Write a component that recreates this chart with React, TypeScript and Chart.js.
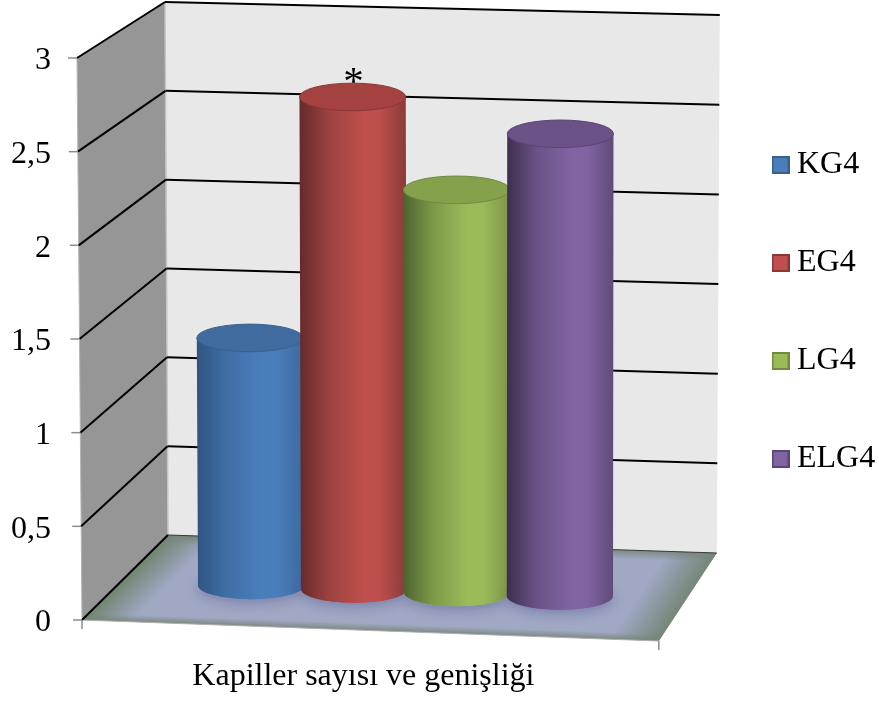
import { useEffect, useRef } from "react";
import { Chart, registerables } from "chart.js";

Chart.register(...registerables);

const categories = ["Kapiller sayısı ve genişliği"];
const seriesNames = ["KG4", "EG4", "LG4", "ELG4"];
const seriesValues = [[1.35], [2.68], [2.19], [2.51]];
const seriesNotes = ["", "*", "", ""];
const yMax = 3;
const yStep = 0.5;

const FONT = '"Liberation Serif", "Times New Roman", serif';

const shades = [
  { base: "#4a7ebb", stops: ["#2f5480", "#3f6ea6", "#4a7ebb", "#3d6a9f"], top: "#3f6b9e", rim: "#3a618c" },
  { base: "#be4f4c", stops: ["#652a29", "#9c4240", "#be4f4c", "#8a3b39"], top: "#a34240", rim: "#8a3836" },
  { base: "#9bbb59", stops: ["#4d6230", "#7d9a49", "#9bbb59", "#7b9448"], top: "#86a14c", rim: "#718a40" },
  { base: "#8064a2", stops: ["#3d2f50", "#6a5387", "#8064a2", "#5f4b7a"], top: "#6a5287", rim: "#5a4676" },
];

type Pt = { x: number; y: number };

const lerp = (a: number, b: number, t: number) => a + (b - a) * t;
const mix = (a: Pt, b: Pt, t: number): Pt => ({ x: lerp(a.x, b.x, t), y: lerp(a.y, b.y, t) });

// Oblique room corners at a given value, relative to the plot area.
function room(chart: any, v: number) {
  const { left, right, bottom } = chart.chartArea;
  const y = chart.scales.y;
  return {
    fl: { x: left - (5 * v) / yMax, y: y.getPixelForValue(v) },
    fr: { x: right + v / yMax, y: bottom + 21 - v * 189 },
    bl: { x: left + 86 - v, y: bottom - 85 - v * 177.67 },
    br: { x: right + 58 + v, y: bottom - 67 - v * 179.3 },
  };
}

const CYLINDER_DEPTH = 0.46;
const CYLINDER_SHIFT = 2;

function project(chart: any, u: number, v: number): Pt {
  const c = room(chart, v);
  const p = mix(mix(c.fl, c.fr, u), mix(c.bl, c.br, u), CYLINDER_DEPTH);
  return { x: p.x + CYLINDER_SHIFT, y: p.y };
}

function polygon(ctx: CanvasRenderingContext2D, pts: Pt[]) {
  ctx.beginPath();
  pts.forEach((p, i) => (i ? ctx.lineTo(p.x, p.y) : ctx.moveTo(p.x, p.y)));
  ctx.closePath();
}

function line(ctx: CanvasRenderingContext2D, a: Pt, b: Pt, color: string, width: number) {
  ctx.strokeStyle = color;
  ctx.lineWidth = width;
  ctx.beginPath();
  ctx.moveTo(a.x, a.y);
  ctx.lineTo(b.x, b.y);
  ctx.stroke();
}

// Fades a tinted band inward from one floor edge.
function edgeBand(ctx: CanvasRenderingContext2D, a: Pt, b: Pt, inside: Pt, depth: number, color: string, pts: Pt[]) {
  const dx = b.x - a.x;
  const dy = b.y - a.y;
  const len = Math.hypot(dx, dy);
  let nx = -dy / len;
  let ny = dx / len;
  if ((inside.x - a.x) * nx + (inside.y - a.y) * ny < 0) {
    nx = -nx;
    ny = -ny;
  }
  const g = ctx.createLinearGradient(a.x, a.y, a.x + nx * depth, a.y + ny * depth);
  g.addColorStop(0, color);
  g.addColorStop(1, color.replace(/[\d.]+\)$/, "0)"));
  ctx.fillStyle = g;
  polygon(ctx, pts);
  ctx.fill();
}

function drawRoom(chart: any) {
  const ctx: CanvasRenderingContext2D = chart.ctx;
  const top = room(chart, yMax);
  const floor = room(chart, 0);

  polygon(ctx, [top.fl, top.bl, floor.bl, floor.fl]);
  ctx.fillStyle = "#969696";
  ctx.fill();
  polygon(ctx, [top.bl, top.br, floor.br, floor.bl]);
  ctx.fillStyle = "#e8e8e8";
  ctx.fill();

  const corners = [floor.fl, floor.bl, floor.br, floor.fr];
  const mid = mix(floor.fl, floor.br, 0.5);
  polygon(ctx, corners);
  ctx.fillStyle = "#a0a8c4";
  ctx.fill();
  edgeBand(ctx, floor.fl, floor.bl, mid, 36, "rgba(112,130,108,0.95)", corners);
  edgeBand(ctx, floor.br, floor.fr, mid, 42, "rgba(118,134,120,1)", corners);
  edgeBand(ctx, floor.bl, floor.br, mid, 9, "rgba(118,132,118,0.85)", corners);
  edgeBand(ctx, floor.fr, floor.fl, mid, 7, "rgba(118,132,118,0.85)", corners);

  line(ctx, top.fl, floor.fl, "#b4b4b4", 1);
  line(ctx, top.bl, floor.bl, "#c4c4c4", 1.5);
  line(ctx, floor.fl, floor.fr, "#b0b0b0", 1);

  for (let v = 0; v <= yMax; v += yStep) {
    const c = room(chart, v);
    line(ctx, c.fl, c.bl, "#000000", 2);
    line(ctx, c.bl, c.br, v === 0 ? "#3a3a3a" : "#000000", v === 0 ? 1 : 2);
    line(ctx, { x: c.fl.x - 9, y: c.fl.y }, c.fl, "#8c8c8c", 1.5);
  }
  line(ctx, floor.fl, { x: floor.fl.x, y: floor.fl.y + 9 }, "#8c8c8c", 1.5);
  line(ctx, floor.fr, { x: floor.fr.x, y: floor.fr.y + 9 }, "#8c8c8c", 1.5);
}

function drawCylinders(chart: any) {
  const ctx: CanvasRenderingContext2D = chart.ctx;
  const { left, width } = chart.chartArea;

  seriesNames.forEach((_, i) => {
    const bar = chart.getDatasetMeta(i).data[0];
    const value = seriesValues[i][0];
    const u = (bar.x - left) / width;
    const base = project(chart, u, 0);
    const head = project(chart, u, value);
    const rx = bar.width / 2 + 0.5;
    const ry = rx * 0.26;
    const shade = shades[i];

    // Soft contact shadow on the floor
    ctx.save();
    ctx.shadowColor = "rgba(70,72,130,0.45)";
    ctx.shadowBlur = 14;
    ctx.shadowOffsetY = 3;
    ctx.fillStyle = shade.base;
    ctx.beginPath();
    ctx.ellipse(base.x, base.y, rx, ry, 0, 0, Math.PI * 2);
    ctx.fill();
    ctx.restore();

    const side = ctx.createLinearGradient(head.x - rx, 0, head.x + rx, 0);
    side.addColorStop(0, shade.stops[0]);
    side.addColorStop(0.28, shade.stops[1]);
    side.addColorStop(0.6, shade.stops[2]);
    side.addColorStop(0.75, shade.stops[2]);
    side.addColorStop(1, shade.stops[3]);
    ctx.fillStyle = side;
    ctx.beginPath();
    ctx.moveTo(head.x - rx, head.y);
    ctx.lineTo(base.x - rx, base.y);
    ctx.ellipse(base.x, base.y, rx, ry, 0, Math.PI, 0, true);
    ctx.lineTo(head.x + rx, head.y);
    ctx.closePath();
    ctx.fill();

    ctx.fillStyle = shade.top;
    ctx.strokeStyle = shade.rim;
    ctx.lineWidth = 1;
    ctx.beginPath();
    ctx.ellipse(head.x, head.y, rx, ry, 0, 0, Math.PI * 2);
    ctx.fill();
    ctx.stroke();

    if (seriesNotes[i]) {
      ctx.fillStyle = "#000000";
      ctx.font = `41px ${FONT}`;
      ctx.textAlign = "center";
      ctx.textBaseline = "alphabetic";
      ctx.fillText(seriesNotes[i], head.x + 1, head.y - 3);
    }
  });
}

const cylinderPlugin = {
  id: "cylinders",
  afterLayout(chart: any) {
    // Legend column sits beside the room, above the plot's vertical centre.
    const lg = chart.legend;
    const w = lg.right - lg.left;
    lg.left = 714;
    lg.right = 714 + w;
    lg.top -= 27;
    lg.bottom -= 27;
  },
  beforeDatasetsDraw(chart: any) {
    chart.ctx.save();
    drawRoom(chart);
    drawCylinders(chart);
    chart.ctx.restore();
    return false;
  },
};

function legendSwatch(fill: string, rim: string) {
  const c = document.createElement("canvas");
  c.width = 18;
  c.height = 18;
  const g = c.getContext("2d")!;
  g.fillStyle = fill;
  g.fillRect(0, 0, 18, 18);
  g.strokeStyle = rim;
  g.lineWidth = 2;
  g.strokeRect(1, 1, 16, 16);
  return c;
}

export default function App() {
  const ref = useRef<HTMLCanvasElement>(null);

  useEffect(() => {
    const chart = new Chart(ref.current!, {
      type: "bar",
      data: {
        labels: categories,
        datasets: seriesNames.map((label, i) => ({
          label,
          data: seriesValues[i],
          backgroundColor: shades[i].base,
          pointStyle: legendSwatch(shades[i].base, shades[i].rim),
          categoryPercentage: 0.73,
          barPercentage: 1,
        })),
      },
      options: {
        animation: false,
        responsive: false,
        devicePixelRatio: 1,
        layout: { padding: { top: 58, right: 49, left: 0, bottom: 0 }, autoPadding: false },
        plugins: {
          tooltip: { enabled: false },
          legend: {
            position: "right",
            fullSize: false,
            labels: {
              color: "#000000",
              font: { family: FONT, size: 32 },
              usePointStyle: true,
              pointStyleWidth: 1,
              boxHeight: 18,
              padding: 66,
              generateLabels: (c: any) =>
                c.data.datasets.map((d: any, i: number) => ({
                  text: d.label,
                  datasetIndex: i,
                  pointStyle: d.pointStyle,
                  fontColor: "#000000",
                })),
            },
          },
        },
        scales: {
          x: {
            grid: { display: false, drawTicks: false },
            border: { display: false },
            afterFit: (s: any) => {
              s.height = 81;
            },
            ticks: {
              color: "#000000",
              font: { family: FONT, size: 32 },
              padding: 37,
              labelOffset: -7,
              maxRotation: 0,
              autoSkip: false,
            },
          },
          y: {
            min: 0,
            max: yMax,
            grid: { display: false, drawTicks: false },
            border: { display: false },
            afterFit: (s: any) => {
              s.width = 82;
            },
            ticks: {
              stepSize: yStep,
              color: "#000000",
              font: { family: FONT, size: 32 },
              padding: 31,
              labelOffset: 3,
              callback: (v: any) => String(v).replace(".", ","),
            },
          },
        },
      },
      plugins: [cylinderPlugin],
    } as any);
    return () => chart.destroy();
  }, []);

  return (
    <canvas
      ref={ref}
      width={879}
      height={701}
      style={{ position: "fixed", left: 0, top: 0, display: "block" }}
    />
  );
}
